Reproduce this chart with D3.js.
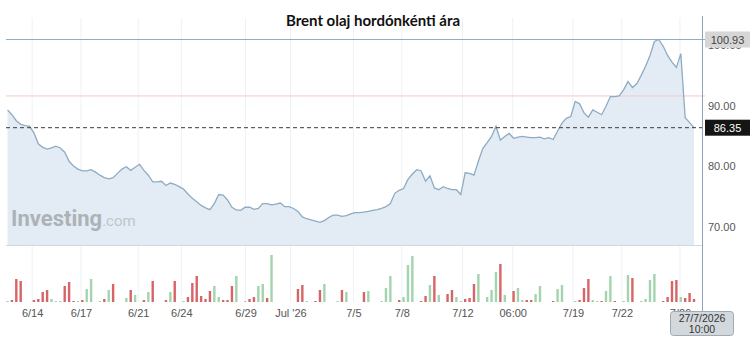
<!DOCTYPE html>
<html>
<head>
<meta charset="utf-8">
<script src="https://cdn.jsdelivr.net/npm/d3@7"></script>
<style>
  body { margin: 0; background: #fff; }
  svg { display: block; }
</style>
</head>
<body>
<svg id="chart" width="750" height="337"></svg>
<script>
// Brent hourly closes, one value per bar
const prices = [
  89.3, 88.5, 87.5, 86.9, 86.7, 86.6, 85.5, 83.7, 83.1, 82.8,
  83.0, 83.3, 83.0, 82.3, 80.8, 80.0, 79.5, 79.2, 79.2, 79.4,
  79.0, 78.5, 78.1, 77.9, 78.1, 78.8, 79.5, 79.9, 79.3, 79.8,
  80.3, 79.3, 78.5, 77.4, 77.4, 77.5, 76.8, 77.2, 77.0, 76.6,
  76.2, 75.4, 74.7, 74.1, 73.5, 73.1, 72.8, 73.8, 75.3, 75.2,
  74.4, 73.2, 72.75, 72.7, 73.2, 73.2, 72.85, 73.0, 73.8, 73.8,
  73.6, 73.7, 73.9, 73.3, 73.3, 73.0, 72.5, 71.6, 71.3, 71.1,
  70.9, 70.7, 71.0, 71.5, 71.9, 71.9, 71.7, 71.8, 72.1, 72.3,
  72.3, 72.4, 72.5, 72.7, 72.8, 73.0, 73.3, 73.8, 75.5, 76.0,
  76.3, 77.8, 78.7, 79.4, 79.2, 77.5, 78.4, 76.4, 76.1, 76.6,
  76.3, 76.1, 76.1, 75.3, 78.9, 78.8, 78.5, 80.8, 82.9, 83.9,
  84.9, 86.6, 84.3, 84.9, 85.4, 84.6, 84.8, 84.9, 84.8, 84.7,
  84.7, 84.8, 84.5, 84.7, 84.4, 85.8, 87.1, 87.9, 88.2, 90.7,
  90.3, 88.8, 88.1, 89.3, 88.9, 88.5, 89.9, 91.5, 91.5, 91.6,
  92.6, 94.0, 93.0, 93.6, 95.0, 96.5, 98.3, 100.6, 100.93, 99.8,
  98.3, 97.2, 96.3, 98.6, 88.0, 87.2, 86.35
];

// volume per bar (thousands), and whether the bar closed up (1) or down (0)
const volumes = [
  1, 2, 23, 21, 0, 0, 2, 3, 10, 12,
  3, 1, 1, 16, 20, 1, 1, 2, 13, 23,
  0, 1, 3, 12, 18, 0, 0, 4, 12, 7,
  0, 2, 10, 21, 0, 0, 2, 10, 21, 0,
  1, 5, 19, 26, 6, 3, 11, 16, 5, 2,
  2, 16, 26, 0, 1, 3, 5, 16, 18, 4,
  47, 0, 0, 0, 0, 0, 13, 17, 1, 0,
  1, 12, 18, 0, 0, 1, 12, 10, 0, 0,
  0, 10, 11, 0, 0, 1, 14, 26, 0, 2,
  5, 37, 46, 0, 1, 6, 17, 26, 7, 0,
  8, 12, 5, 1, 3, 4, 18, 28, 0, 5,
  12, 30, 38, 7, 0, 11, 14, 2, 2, 2,
  8, 16, 0, 0, 1, 13, 17, 0, 0, 1,
  2, 14, 23, 2, 1, 1, 11, 26, 1, 0,
  1, 27, 24, 0, 1, 3, 22, 28, 0, 1,
  5, 21, 22, 5, 4, 9, 3
];
const barUp = [
  1, 0, 0, 0, 1, 1, 0, 0, 0, 0,
  1, 1, 1, 0, 0, 0, 1, 0, 1, 1,
  1, 1, 0, 1, 0, 1, 1, 1, 0, 1,
  1, 0, 1, 0, 1, 1, 0, 1, 0, 1,
  1, 0, 0, 0, 0, 0, 0, 1, 1, 0,
  0, 0, 1, 1, 1, 0, 0, 1, 1, 0,
  1, 1, 1, 1, 1, 1, 0, 0, 1, 1,
  0, 0, 1, 1, 1, 1, 0, 1, 1, 1,
  1, 0, 1, 1, 1, 1, 1, 1, 1, 0,
  1, 1, 1, 1, 0, 0, 1, 0, 1, 1,
  0, 0, 1, 1, 0, 0, 0, 1, 1, 1,
  1, 1, 0, 1, 1, 0, 1, 1, 0, 0,
  1, 1, 1, 1, 0, 1, 1, 1, 1, 1,
  0, 0, 0, 1, 1, 0, 1, 1, 0, 1,
  1, 1, 0, 1, 1, 1, 1, 1, 1, 0,
  0, 0, 0, 1, 0, 0, 0
];

const priceTicks = [70, 80, 90, 100];
const dateTicks = [5.6, 16.7, 29.7, 39.5, 54.1, 64.3, 78.6, 89.6, 103.4, 114.8, 128.5, 139.6, 152.8];
const dateLabels = ["6/14", "6/17", "6/21", "6/24", "6/29", "Jul '26", "7/5", "7/8", "7/12", "06:00", "7/19", "7/22", "7/26"];

const titleText = "Brent olaj hordónkénti ára";
const lastPrice = 86.35;
const highPrice = 100.93;
const refPrice = 91.6;
const cursorLabel = ["27/7/2026", "10:00"];

const left = 6, right = 702;
const priceTop = 18, priceBottom = 245, volBottom = 302;
const axisFont = "'Liberation Sans', Arial, sans-serif";

const svg = d3.select("#chart");

const x = d3.scaleLinear().domain([0, prices.length - 1]).range([7.5, 694]);
const y = d3.scaleLinear().domain([66.96, highPrice]).range([priceBottom, 39.5]);
const yVol = d3.scaleLinear().domain([0, 48]).range([volBottom, 254]);

// vertical grid
svg.append("g")
  .selectAll("line")
  .data(dateTicks)
  .join("line")
  .attr("x1", d => x(d)).attr("x2", d => x(d))
  .attr("y1", priceTop).attr("y2", volBottom)
  .attr("stroke", "#eef1f4")
  .attr("stroke-width", 1);

// price area + line
const area = d3.area()
  .x((d, i) => x(i))
  .y0(priceBottom)
  .y1(d => y(d));
const line = d3.line()
  .x((d, i) => x(i))
  .y(d => y(d));

svg.append("path")
  .datum(prices)
  .attr("d", area)
  .attr("fill", "#e3ecf5");

// watermark
const wm = svg.append("text")
  .attr("x", 11).attr("y", 226)
  .attr("fill", "#adb2b7")
  .attr("font-family", "Roboto, 'Liberation Sans', sans-serif");
wm.append("tspan").attr("font-size", 22).attr("font-weight", 700).text("Investing");
wm.append("tspan").attr("font-size", 15).attr("fill", "#c0c4c8").text(".com");

// panel bottom border
svg.append("line")
  .attr("x1", left).attr("x2", right)
  .attr("y1", priceBottom + 0.5).attr("y2", priceBottom + 0.5)
  .attr("stroke", "#cfd9e2");

// reference lines
svg.append("line")
  .attr("x1", left).attr("x2", right + 3)
  .attr("y1", y(refPrice)).attr("y2", y(refPrice))
  .attr("stroke", "#f2c9c9").attr("stroke-width", 1);
svg.append("line")
  .attr("x1", left).attr("x2", right + 3)
  .attr("y1", y(highPrice)).attr("y2", y(highPrice))
  .attr("stroke", "#93adc4").attr("stroke-width", 1.2);

svg.append("path")
  .datum(prices)
  .attr("d", line)
  .attr("fill", "none")
  .attr("stroke", "#8eabc3")
  .attr("stroke-width", 1.3);

svg.append("line")
  .attr("x1", left).attr("x2", right + 3)
  .attr("y1", y(lastPrice)).attr("y2", y(lastPrice))
  .attr("stroke", "#3a3a3a").attr("stroke-width", 1)
  .attr("stroke-dasharray", "4,3");

// volume bars
svg.append("g")
  .selectAll("rect")
  .data(volumes)
  .join("rect")
  .attr("x", (d, i) => x(i) - 1.2)
  .attr("width", 2.4)
  .attr("y", d => yVol(d))
  .attr("height", d => volBottom - yVol(d))
  .attr("fill", (d, i) => barUp[i] ? "#a3d4ae" : "#d66568");

// right axis
const yAxis = svg.append("g")
  .attr("transform", `translate(${right},0)`)
  .call(d3.axisRight(y).tickValues(priceTicks).tickFormat(d3.format(".2f")).tickSize(0).tickPadding(6));
yAxis.select(".domain").remove();
yAxis.selectAll("text")
  .attr("font-family", axisFont)
  .attr("font-size", 11)
  .attr("fill", "#555");

// bottom axis
const xAxis = svg.append("g")
  .attr("transform", `translate(0,${volBottom})`)
  .call(d3.axisBottom(x).tickValues(dateTicks).tickFormat((d, i) => dateLabels[i]).tickSize(0).tickPadding(7));
xAxis.select(".domain").remove();
xAxis.selectAll("text")
  .attr("font-family", axisFont)
  .attr("font-size", 11)
  .attr("fill", "#555");

// cursor line
svg.append("line")
  .attr("x1", right + 0.5).attr("x2", right + 0.5)
  .attr("y1", priceTop - 2).attr("y2", 312)
  .attr("stroke", "#8fa3b6").attr("stroke-width", 1);

// price tags (drawn over the axis labels, like the original)
function tag(val, bg, fg) {
  const yy = y(val);
  svg.append("rect")
    .attr("x", right + 3).attr("y", yy - 8)
    .attr("width", 45).attr("height", 16)
    .attr("fill", bg);
  svg.append("text")
    .attr("x", right + 25.5).attr("y", yy + 4)
    .attr("text-anchor", "middle")
    .attr("font-family", axisFont)
    .attr("font-size", 11)
    .attr("fill", fg)
    .text(d3.format(".2f")(val));
}
tag(highPrice, "#d6d6d6", "#444");
tag(lastPrice, "#151515", "#fff");

// cursor date box
svg.append("rect")
  .attr("x", 670.5).attr("y", 311.5)
  .attr("width", 63).attr("height", 24)
  .attr("rx", 3)
  .attr("fill", "#d3d8dd").attr("stroke", "#9eaab5");
svg.selectAll(".curlab")
  .data(cursorLabel)
  .join("text")
  .attr("class", "curlab")
  .attr("x", 702).attr("y", (d, i) => 322 + i * 11)
  .attr("text-anchor", "middle")
  .attr("font-family", axisFont)
  .attr("font-size", 10.5)
  .attr("fill", "#333")
  .text(d => d);

// title
svg.append("text")
  .attr("x", 373).attr("y", 26)
  .attr("text-anchor", "middle")
  .attr("font-family", "Lato, 'Open Sans', sans-serif")
  .attr("font-weight", 700)
  .attr("font-size", 15)
  .attr("fill", "#111")
  .text(titleText);
</script>
</body>
</html>
